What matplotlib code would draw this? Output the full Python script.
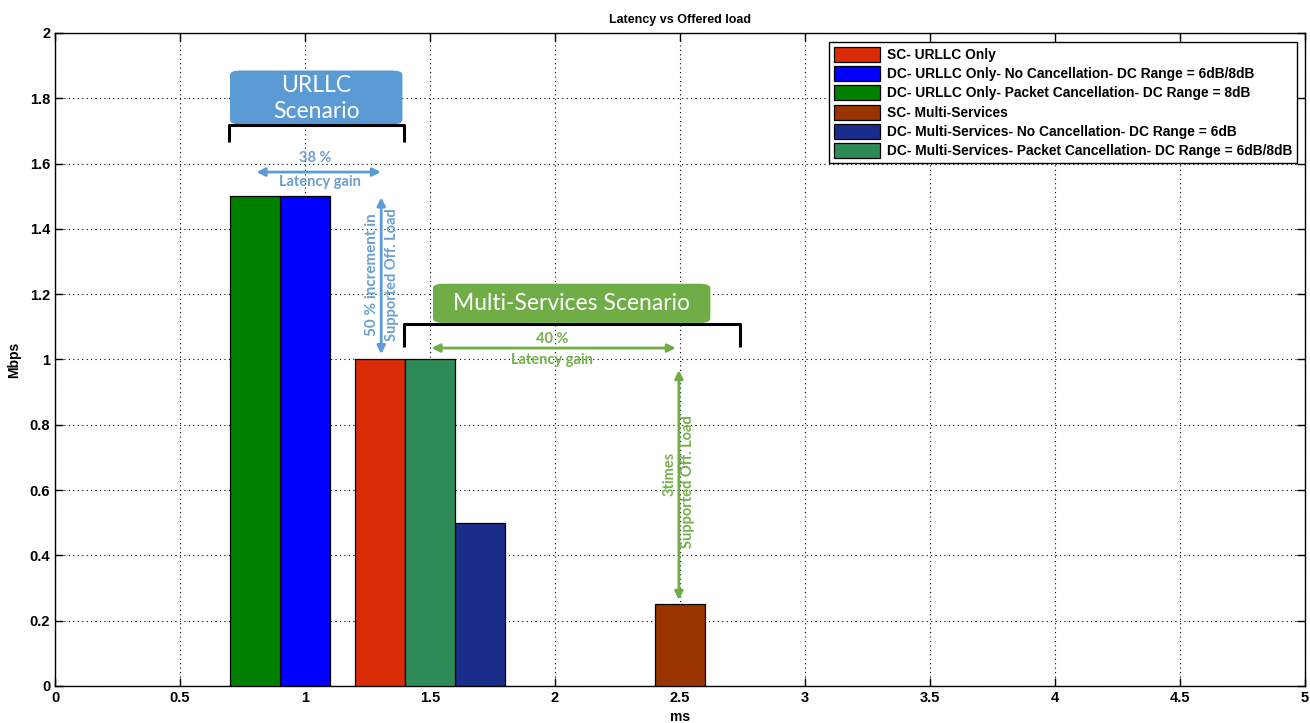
import matplotlib.pyplot as plt
from matplotlib.patches import FancyBboxPatch
from matplotlib.ticker import FuncFormatter

# Latency (ms) and supported offered load (Mbps) per configuration
labels = [
    "SC- URLLC Only",
    "DC- URLLC Only- No Cancellation- DC Range = 6dB/8dB",
    "DC- URLLC Only- Packet Cancellation- DC Range = 8dB",
    "SC- Multi-Services",
    "DC- Multi-Services- No Cancellation- DC Range = 6dB",
    "DC- Multi-Services- Packet Cancellation- DC Range = 6dB/8dB",
]
latency_ms = [1.3, 1.0, 0.8, 2.5, 1.7, 1.5]
load_mbps = [1.0, 1.5, 1.5, 0.25, 0.5, 1.0]
colors = ["#d92b06", "#0000ff", "#008000", "#993300", "#1b2d8a", "#2e8b57"]
bar_width = 0.2

xticks = [0, 0.5, 1, 1.5, 2, 2.5, 3, 3.5, 4, 4.5, 5]
yticks = [0, 0.2, 0.4, 0.6, 0.8, 1, 1.2, 1.4, 1.6, 1.8, 2]

plt.rcParams['font.family'] = ['Liberation Sans', 'DejaVu Sans']

fig = plt.figure(figsize=(13.1, 7.23), dpi=100)
ax = fig.add_axes([0.042, 0.0512, 0.954, 0.9032])

for x, h, c, lab in zip(latency_ms, load_mbps, colors, labels):
    ax.bar(x, h, width=bar_width, color=c, edgecolor='black', linewidth=0.9,
           label=lab, zorder=3)

ax.set_xlim(0, 5)
ax.set_ylim(0, 2)
ax.set_xticks(xticks)
ax.set_yticks(yticks)
fmt = FuncFormatter(lambda v, p: f"{v:g}")
ax.xaxis.set_major_formatter(fmt)
ax.yaxis.set_major_formatter(fmt)
ax.tick_params(direction='in', top=True, right=True, length=6, width=1,
               labelsize=10.5)
for lbl in ax.get_xticklabels() + ax.get_yticklabels():
    lbl.set_fontweight('bold')
ax.grid(True, linestyle=(0, (1, 3)), color='black', linewidth=0.8, zorder=0)
for s in ax.spines.values():
    s.set_linewidth(1)

ax.set_title("Latency vs Offered load", fontsize=9, fontweight='bold', pad=7)
ax.set_xlabel("ms", fontsize=10, fontweight='bold', labelpad=4)
ax.set_ylabel("Mbps", fontsize=10, fontweight='bold', labelpad=6)

leg = ax.legend(loc='upper right', bbox_to_anchor=(0.9936, 0.986),
                borderaxespad=0, handlelength=3.4, handleheight=1.3,
                labelspacing=0.3, handletextpad=0.45, borderpad=0.35,
                fancybox=False, framealpha=1, edgecolor='black',
                prop={'weight': 'bold', 'size': 9.9})
leg.get_frame().set_linewidth(1)

blue = "#5b9bd5"
blue_txt = "#6a9fd0"
green = "#70ad47"
green_txt = "#74b04c"
ann_font = ['Lato', 'DejaVu Sans']

# URLLC scenario callout
ax.add_patch(FancyBboxPatch((0.70, 1.72), 0.69, 0.165,
                            boxstyle="round,pad=0,rounding_size=0.04",
                            mutation_aspect=0.35,
                            facecolor=blue, edgecolor='none', zorder=5))
ax.text(1.045, 1.80, "URLLC\nScenario", color='white', fontsize=16.5,
        ha='center', va='center', linespacing=1.3, family=ann_font, zorder=6)
ax.plot([0.696, 0.696, 1.396, 1.396], [1.666, 1.718, 1.718, 1.666],
        color='black', linewidth=2.2, solid_capstyle='butt', zorder=6)

ax.text(1.04, 1.617, "38 %", color=blue_txt, fontsize=10.5, fontweight='bold',
        ha='center', va='center', family=ann_font, zorder=6)
ax.annotate("", xy=(0.795, 1.574), xytext=(1.315, 1.574),
            arrowprops=dict(arrowstyle='<|-|>', color=blue, lw=2,
                            mutation_scale=12), zorder=6)
ax.text(1.06, 1.543, "Latency gain", color=blue_txt, fontsize=10.5,
        fontweight='bold', ha='center', va='center', family=ann_font, zorder=6)

ax.annotate("", xy=(1.305, 1.008), xytext=(1.305, 1.505),
            arrowprops=dict(arrowstyle='<|-|>', color=blue, lw=2,
                            mutation_scale=12), zorder=6)
ax.text(1.267, 1.26, "50 % increment in", color=blue_txt, fontsize=11,
        fontweight='bold', rotation=90, ha='center', va='center',
        family=ann_font, zorder=6)
ax.text(1.347, 1.26, "Supported Off. Load", color=blue_txt, fontsize=10.5,
        fontweight='bold', rotation=90, ha='center', va='center',
        family=ann_font, zorder=6)

# Multi-services scenario callout
ax.add_patch(FancyBboxPatch((1.512, 1.112), 1.11, 0.12,
                            boxstyle="round,pad=0,rounding_size=0.04",
                            mutation_aspect=0.35,
                            facecolor=green, edgecolor='none', zorder=5))
ax.text(2.065, 1.17, "Multi-Services Scenario", color='white', fontsize=16.5,
        ha='center', va='center', family=ann_font, zorder=6)
ax.plot([1.396, 1.396, 2.742, 2.742], [1.038, 1.109, 1.109, 1.038],
        color='black', linewidth=2.2, solid_capstyle='butt', zorder=6)

ax.text(1.99, 1.063, "40 %", color=green_txt, fontsize=10.5, fontweight='bold',
        ha='center', va='center', family=ann_font, zorder=6)
ax.annotate("", xy=(1.495, 1.035), xytext=(2.495, 1.035),
            arrowprops=dict(arrowstyle='<|-|>', color=green, lw=2,
                            mutation_scale=12), zorder=6)
ax.text(1.99, 0.998, "Latency gain", color=green_txt, fontsize=10.5,
        fontweight='bold', ha='center', va='center', family=ann_font, zorder=6)

ax.annotate("", xy=(2.496, 0.255), xytext=(2.496, 0.976),
            arrowprops=dict(arrowstyle='<|-|>', color=green, lw=2,
                            mutation_scale=12), zorder=6)
ax.text(2.458, 0.65, "3times", color=green_txt, fontsize=10.5,
        fontweight='bold', rotation=90, ha='center', va='center',
        family=ann_font, zorder=6)
ax.text(2.532, 0.625, "Supported Off. Load", color=green_txt, fontsize=10.5,
        fontweight='bold', rotation=90, ha='center', va='center',
        family=ann_font, zorder=6)

fig.savefig("out.png", dpi=100)
